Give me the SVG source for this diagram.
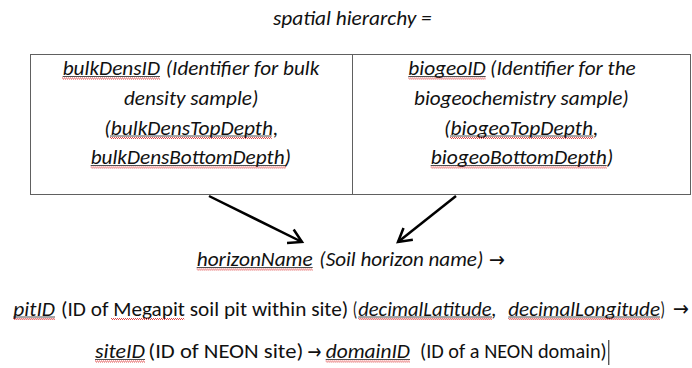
<svg xmlns="http://www.w3.org/2000/svg" width="692" height="368" viewBox="0 0 692 368">
<style>
text{font-family:Carlito,Lato,"Open Sans","Liberation Sans",sans-serif;font-size:20px;fill:#111;}
.i{font-style:italic;}
.ar{font-family:"DejaVu Sans",sans-serif;font-size:21px;}
.ul{stroke:#222;stroke-width:0.8;}
.sq{stroke:#e04848;stroke-width:1;stroke-dasharray:1 1;fill:none;}
.sq2{stroke:#e04848;stroke-width:1;stroke-dasharray:1 1;stroke-dashoffset:1;fill:none;}
.tbl{fill:none;stroke:#606060;stroke-width:1;}
.conn{stroke:#000;stroke-width:2.5;fill:none;}
</style>
<defs>
<marker id="ah" markerUnits="userSpaceOnUse" markerWidth="20" markerHeight="20" refX="14" refY="9" orient="auto">
<path d="M1,1.5 L14,9 L1,16.5" fill="none" stroke="#000" stroke-width="2.5" stroke-linejoin="miter"/>
</marker>
</defs>

<g id="title">
<text class="i" x="273" y="25" textLength="158.7" lengthAdjust="spacingAndGlyphs">spatial hierarchy =</text>
</g>

<g id="table">
<rect class="tbl" x="30.5" y="54.5" width="660" height="140"/>
<line class="tbl" x1="352.5" y1="54.5" x2="352.5" y2="194.5"/>
</g>

<g id="bulkDens">
<text class="i" x="62.7" y="75" textLength="97.3" lengthAdjust="spacingAndGlyphs">bulkDensID</text>
<text class="i" x="165.7" y="75" textLength="153.6" lengthAdjust="spacingAndGlyphs">(Identifier for bulk</text>
<text class="i" x="124" y="105" textLength="134.3" lengthAdjust="spacingAndGlyphs">density sample)</text>
<text class="i" x="104.3" y="134.5" textLength="174" lengthAdjust="spacingAndGlyphs">(bulkDensTopDepth,</text>
<text class="i" x="90.7" y="164" textLength="200.3" lengthAdjust="spacingAndGlyphs">bulkDensBottomDepth)</text>
<line class="ul" x1="62.7" y1="76.5" x2="160" y2="76.5"/>
<line class="sq" x1="62" y1="78" x2="160" y2="78"/><line class="sq2" x1="62" y1="79" x2="160" y2="79"/>
<line class="ul" x1="110" y1="136" x2="271.7" y2="136"/>
<line class="sq" x1="110" y1="137.5" x2="271.7" y2="137.5"/><line class="sq2" x1="110" y1="138.5" x2="271.7" y2="138.5"/>
<line class="ul" x1="90.7" y1="165.5" x2="286" y2="165.5"/>
<line class="sq" x1="90.7" y1="167" x2="286" y2="167"/><line class="sq2" x1="90.7" y1="168" x2="286" y2="168"/>
</g>

<g id="biogeo">
<text class="i" x="408.3" y="75" textLength="77.4" lengthAdjust="spacingAndGlyphs">biogeoID</text>
<text class="i" x="490" y="75" textLength="145.7" lengthAdjust="spacingAndGlyphs">(Identifier for the</text>
<text class="i" x="414" y="105" textLength="214.7" lengthAdjust="spacingAndGlyphs">biogeochemistry sample)</text>
<text class="i" x="444" y="134.5" textLength="154.3" lengthAdjust="spacingAndGlyphs">(biogeoTopDepth,</text>
<text class="i" x="430.7" y="164" textLength="182.6" lengthAdjust="spacingAndGlyphs">biogeoBottomDepth)</text>
<line class="ul" x1="408.3" y1="76.5" x2="485.7" y2="76.5"/>
<line class="sq" x1="408.3" y1="78" x2="485.7" y2="78"/><line class="sq2" x1="408.3" y1="79" x2="485.7" y2="79"/>
<line class="ul" x1="450" y1="136" x2="593.3" y2="136"/>
<line class="sq" x1="450" y1="137.5" x2="593.3" y2="137.5"/><line class="sq2" x1="450" y1="138.5" x2="593.3" y2="138.5"/>
<line class="ul" x1="430.7" y1="165.5" x2="606.7" y2="165.5"/>
<line class="sq" x1="430.7" y1="167" x2="606.7" y2="167"/><line class="sq2" x1="430.7" y1="168" x2="606.7" y2="168"/>
</g>

<g id="connectors">
<line class="conn" x1="209" y1="196" x2="302" y2="242" marker-end="url(#ah)"/>
<line class="conn" x1="456" y1="196" x2="398" y2="242" marker-end="url(#ah)"/>
</g>

<g id="horizon">
<text class="i" x="196.7" y="266" textLength="116" lengthAdjust="spacingAndGlyphs">horizonName</text>
<text class="i" x="319.3" y="266" textLength="164" lengthAdjust="spacingAndGlyphs">(Soil horizon name)</text>
<text class="ar" x="489" y="266.5" textLength="16" lengthAdjust="spacingAndGlyphs">→</text>
<line class="ul" x1="196.7" y1="267.5" x2="312.7" y2="267.5"/>
<line class="sq" x1="196.7" y1="269" x2="312.7" y2="269"/><line class="sq2" x1="196.7" y1="270" x2="312.7" y2="270"/>
</g>

<g id="pit">
<text class="i" x="13.3" y="315.5" textLength="41.7" lengthAdjust="spacingAndGlyphs">pitID</text>
<text x="61" y="315.5" textLength="287.3" lengthAdjust="spacingAndGlyphs">(ID of Megapit soil pit within site)</text>
<text x="352.7" y="315.5" textLength="4.5" lengthAdjust="spacingAndGlyphs">(</text>
<text class="i" x="358.3" y="315.5" textLength="138.4" lengthAdjust="spacingAndGlyphs">decimalLatitude,</text>
<text class="i" x="508.3" y="315.5" textLength="151.7" lengthAdjust="spacingAndGlyphs">decimalLongitude</text>
<text x="660.5" y="315.5" textLength="4.5" lengthAdjust="spacingAndGlyphs">)</text>
<text class="ar" x="673" y="316" textLength="16" lengthAdjust="spacingAndGlyphs">→</text>
<line class="ul" x1="13.3" y1="317" x2="55" y2="317"/>
<line class="sq" x1="13.3" y1="318.5" x2="55" y2="318.5"/><line class="sq2" x1="13.3" y1="319.5" x2="55" y2="319.5"/>
<line class="sq" x1="111" y1="318.5" x2="184.3" y2="318.5"/><line class="sq2" x1="111" y1="319.5" x2="184.3" y2="319.5"/>
<line class="ul" x1="358.3" y1="317" x2="492" y2="317"/>
<line class="sq" x1="358.3" y1="318.5" x2="492" y2="318.5"/><line class="sq2" x1="358.3" y1="319.5" x2="492" y2="319.5"/>
<line class="ul" x1="508.3" y1="317" x2="660" y2="317"/>
<line class="sq" x1="508.3" y1="318.5" x2="660" y2="318.5"/><line class="sq2" x1="508.3" y1="319.5" x2="660" y2="319.5"/>
</g>

<g id="site">
<text class="i" x="95" y="358" textLength="50" lengthAdjust="spacingAndGlyphs">siteID</text>
<text x="148.3" y="358" textLength="155" lengthAdjust="spacingAndGlyphs">(ID of NEON site)</text>
<text class="ar" x="307.5" y="358.5" textLength="14" lengthAdjust="spacingAndGlyphs">→</text>
<text class="i" x="325.7" y="358" textLength="84.3" lengthAdjust="spacingAndGlyphs">domainID</text>
<text x="420" y="358" textLength="186.7" lengthAdjust="spacingAndGlyphs">(ID of a NEON domain)</text>
<line x1="608.8" y1="340" x2="608.8" y2="365" stroke="#111" stroke-width="1"/>
<line class="ul" x1="95" y1="359.5" x2="145" y2="359.5"/>
<line class="sq" x1="95" y1="361" x2="145" y2="361"/><line class="sq2" x1="95" y1="362" x2="145" y2="362"/>
<line class="ul" x1="325.7" y1="359.5" x2="410" y2="359.5"/>
<line class="sq" x1="325.7" y1="361" x2="410" y2="361"/><line class="sq2" x1="325.7" y1="362" x2="410" y2="362"/>
</g>
</svg>
